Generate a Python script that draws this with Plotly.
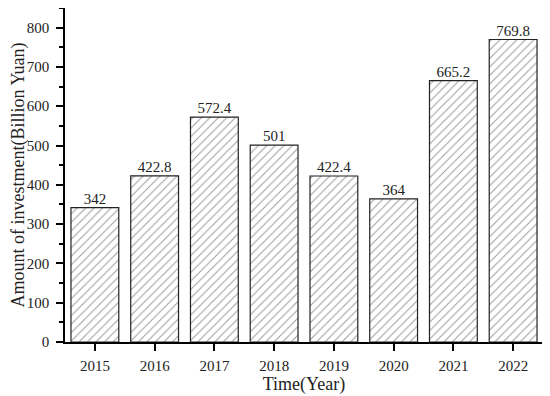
import plotly.graph_objects as go

years = ["2015", "2016", "2017", "2018", "2019", "2020", "2021", "2022"]
investment = [342, 422.8, 572.4, 501, 422.4, 364, 665.2, 769.8]
value_labels = ["342", "422.8", "572.4", "501", "422.4", "364", "665.2", "769.8"]

FONT = "Liberation Serif"

fig = go.Figure()
fig.add_trace(
    go.Bar(
        x=years,
        y=investment,
        width=0.8,
        marker=dict(
            color="white",
            line=dict(color="#222", width=1.2),
            pattern=dict(shape="/", size=6, solidity=0.16, fgcolor="#333", bgcolor="white"),
        ),
        showlegend=False,
    )
)
# value labels sit just above each bar
fig.add_trace(
    go.Scatter(
        x=years,
        y=investment,
        mode="text",
        text=value_labels,
        textposition="top center",
        cliponaxis=False,
        textfont=dict(family=FONT, size=15, color="#222"),
        showlegend=False,
        hoverinfo="skip",
    )
)

axis_common = dict(
    showline=True,
    linecolor="black",
    linewidth=1.5,
    ticks="outside",
    ticklen=7,
    tickwidth=1.5,
    tickcolor="black",
    showgrid=False,
    zeroline=False,
    automargin=False,
    tickfont=dict(family=FONT, size=15, color="#222"),
)

# the page body adds an 8px offset, so the figure is sized to the visible window
fig.update_layout(
    width=542,
    height=388,
    plot_bgcolor="white",
    paper_bgcolor="white",
    margin=dict(l=57, r=7, t=0, b=54),
    bargap=0.2,
    font=dict(family=FONT, color="#222"),
)
fig.update_xaxes(
    **axis_common,
    range=[-0.5, 7.5],
    ticklabelstandoff=2,
    minor=dict(ticks="outside", ticklen=4, tickwidth=1.5, tickcolor="black", dtick=1, tick0=0.5),
    title=dict(text="Time(Year)", font=dict(family=FONT, size=18), standoff=2),
)
fig.update_yaxes(
    **axis_common,
    range=[0, 850],
    dtick=100,
    ticklabelstandoff=4,
    minor=dict(ticks="outside", ticklen=4, tickwidth=1.5, tickcolor="black", dtick=50),
    title=dict(text="Amount of investment(Billion Yuan)", font=dict(family=FONT, size=18), standoff=6),
)

fig.write_html("out.html")
